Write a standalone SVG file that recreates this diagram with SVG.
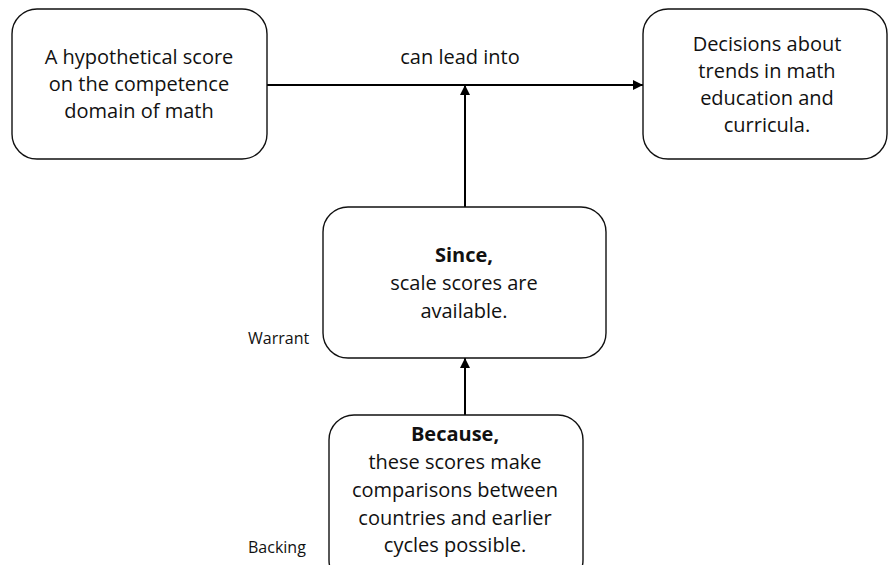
<svg xmlns="http://www.w3.org/2000/svg" width="888" height="565" viewBox="0 0 888 565">
  <defs>
    <marker id="arrow" viewBox="0 0 10 10" refX="10" refY="5" markerWidth="11" markerHeight="10" markerUnits="userSpaceOnUse" orient="auto">
      <path d="M0,0 L10,5 L0,10 z" fill="#000"/>
    </marker>
    <style>
      .box { fill: #fff; stroke: #111; stroke-width: 1.4; }
      .t { font-family: "Open Sans", "Noto Sans", sans-serif; font-size: 20px; fill: #111; text-anchor: middle; }
      .b { font-weight: bold; }
      .side { font-family: "Open Sans", "Noto Sans", sans-serif; font-size: 16px; fill: #111; }
      .conn { fill: none; stroke: #000; stroke-width: 2; marker-end: url(#arrow); }
    </style>
  </defs>
  <rect width="888" height="565" fill="#fff"/>

  <g id="connectors">
    <path class="conn" d="M267,85 L643,85"/>
    <path class="conn" d="M465,207 L465,85"/>
    <path class="conn" d="M465,415 L465,358"/>
    <text class="t" x="460" y="64">can lead into</text>
  </g>

  <g id="claim-data">
    <rect class="box" x="12" y="9" width="255" height="150" rx="25"/>
    <text class="t" x="139" y="64">A hypothetical score</text>
    <text class="t" x="139" y="91">on the competence</text>
    <text class="t" x="139" y="118">domain of math</text>
  </g>

  <g id="claim">
    <rect class="box" x="643" y="9" width="244" height="150" rx="25"/>
    <text class="t" x="767" y="51">Decisions about</text>
    <text class="t" x="767" y="78">trends in math</text>
    <text class="t" x="767" y="105">education and</text>
    <text class="t" x="767" y="132">curricula.</text>
  </g>

  <g id="warrant">
    <rect class="box" x="323" y="207" width="283" height="151" rx="25"/>
    <text class="t b" x="464" y="262">Since,</text>
    <text class="t" x="464" y="290">scale scores are</text>
    <text class="t" x="464" y="318">available.</text>
    <text class="side" x="248" y="344">Warrant</text>
  </g>

  <g id="backing">
    <rect class="box" x="329" y="415" width="254" height="170" rx="25"/>
    <text class="t b" x="455" y="441">Because,</text>
    <text class="t" x="455" y="469">these scores make</text>
    <text class="t" x="455" y="497">comparisons between</text>
    <text class="t" x="455" y="525">countries and earlier</text>
    <text class="t" x="455" y="552">cycles possible.</text>
    <text class="side" x="248" y="553">Backing</text>
  </g>
</svg>
